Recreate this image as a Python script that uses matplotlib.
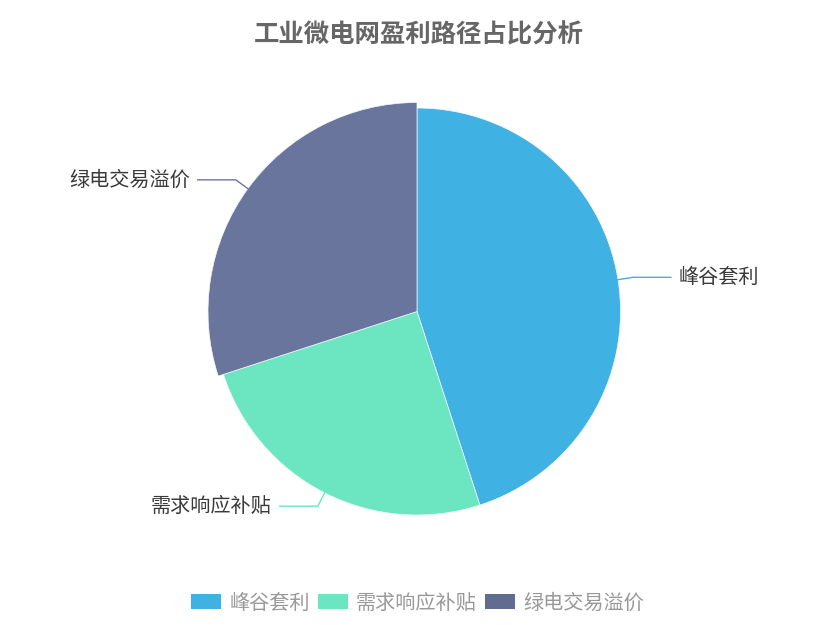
import numpy as np
import matplotlib.pyplot as plt
from matplotlib.patches import Patch

plt.rcParams['font.family'] = ['Noto Sans CJK SC', 'DejaVu Sans']

# ---- data ----
TITLE = "工业微电网盈利路径占比分析"
CATEGORIES = ["峰谷套利", "需求响应补贴", "绿电交易溢价"]
VALUES = [45, 25, 30]
COLORS = ["#3fb1e3", "#6be6c1", "#6a759e"]
LEGEND_COLORS = ["#3fb1e3", "#6be6c1", "#626c91"]

W, H = 835, 625
CX, CY = 417, H - 311.5
R = 203.5
R_HL = 209  # highlighted slice (hover state in the original)

fig = plt.figure(figsize=(W / 100, H / 100), dpi=100)
ax = fig.add_axes([0, 0, 1, 1])

wedges, _ = ax.pie(VALUES, colors=COLORS, startangle=90, counterclock=False,
                   center=(CX, CY), radius=R, frame=True,
                   wedgeprops=dict(linewidth=0.5, edgecolor="#f4f8fa"))
wedges[2].set_radius(R_HL)
ax.set_xlim(0, W)
ax.set_ylim(0, H)
ax.set_aspect("equal")
ax.axis("off")

# ---- labels with leader lines ----
for w, name, col in zip(wedges, CATEGORIES, COLORS):
    mid = np.deg2rad((w.theta1 + w.theta2) / 2)
    r = w.r
    x0, y0 = CX + r * np.cos(mid), CY + r * np.sin(mid)
    x1, y1 = CX + (r + 15) * np.cos(mid), CY + (r + 15) * np.sin(mid)
    side = 1 if np.cos(mid) >= 0 else -1
    x2 = x1 + side * 38
    ax.plot([x0, x1, x2], [y0, y1, y1], color=col, lw=1)
    ax.text(x2 + side * 8, y1, name, ha="left" if side > 0 else "right",
            va="center", fontsize=14.5, color="#3a3a3a")

ax.text(W / 2 + 1, H - 35, TITLE, ha="center", va="center", fontsize=18.3,
        fontweight="bold", color="#666666")

handles = [Patch(facecolor=c, edgecolor="none") for c in LEGEND_COLORS]
fig.legend(handles, CATEGORIES, loc="center", bbox_to_anchor=(0.5, (H - 603) / H),
           ncol=3, frameon=False, fontsize=14.5, labelcolor="#999999",
           handlelength=1.5, handleheight=0.8, handletextpad=0.4,
           columnspacing=0.4)

fig.savefig("out.png", dpi=100)
